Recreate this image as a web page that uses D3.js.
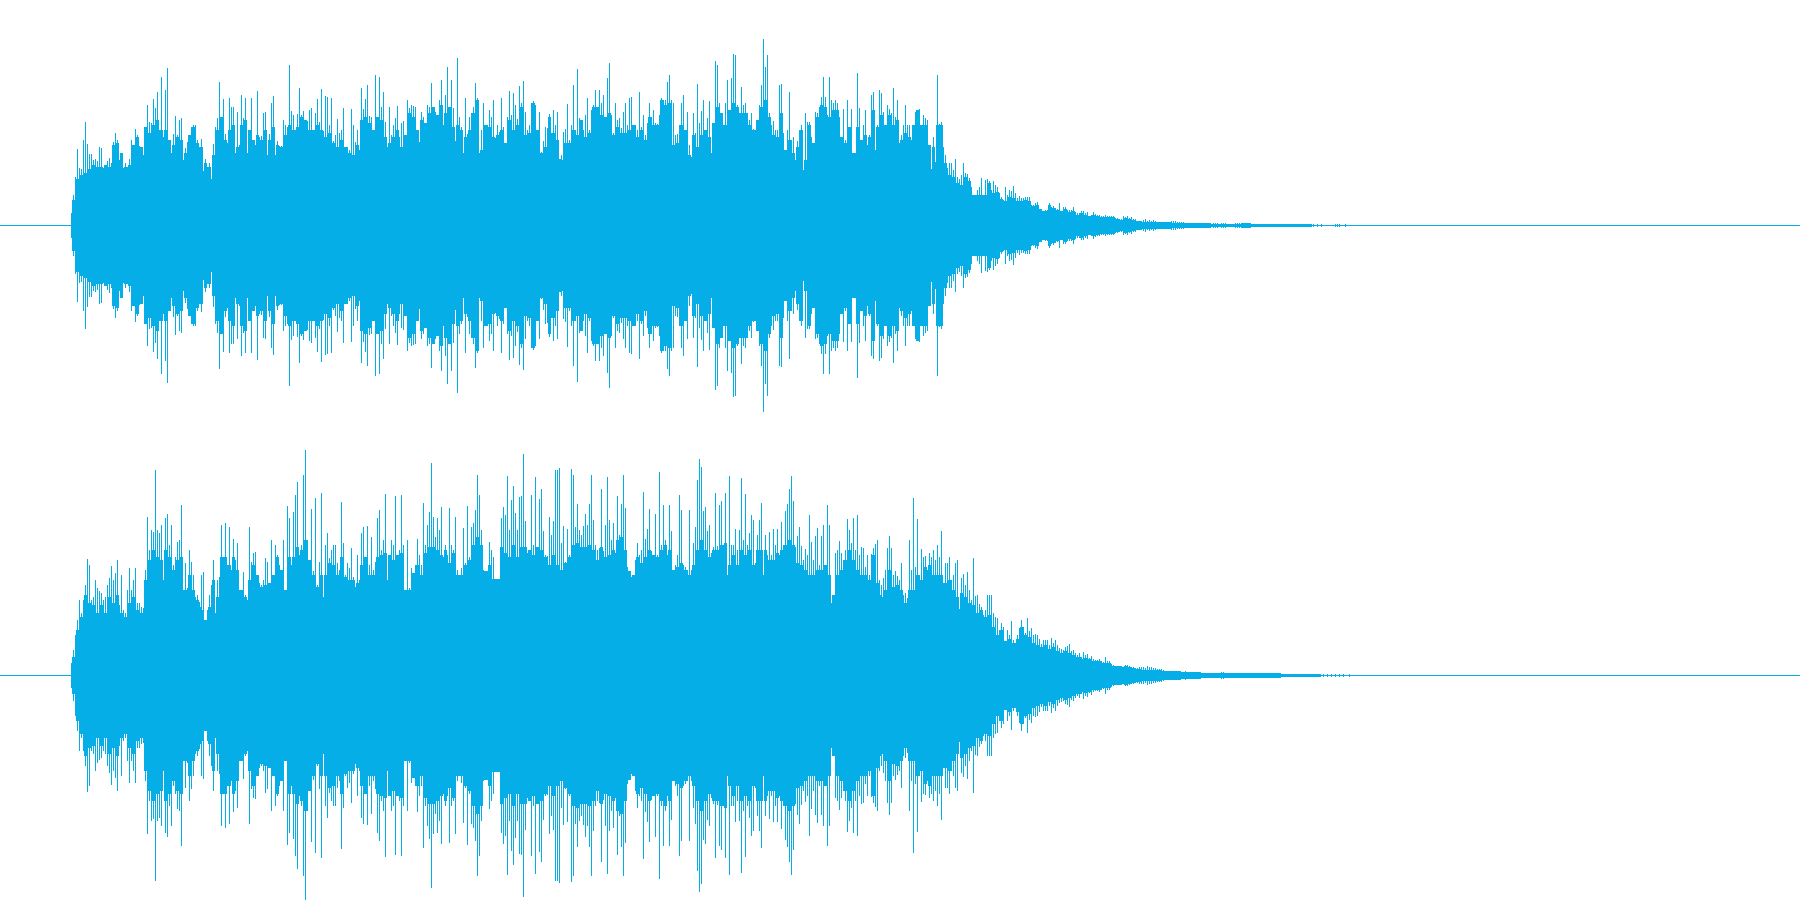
<!DOCTYPE html>
<html>
<head>
<meta charset="utf-8">
<script src="https://d3js.org/d3.v7.min.js"></script>
<style>
  body { margin: 0; background: #fff; }
  svg { display: block; }
</style>
</head>
<body>
<div id="wave"></div>
<script>
// peak level of each channel, one reading every 2 columns from column 71
var topPeaks = [5,30,48,76,57,56,85,103,81,71,71,65,66,64,78,77,57,57,64,67,62,83,92,85,65,56,57,62,58,66,85,62,96,90,79,77,70,98,120,103,102,126,117,133,95,148,88,135,157,82,72,91,109,90,105,107,65,77,83,57,98,100,100,85,78,86,46,66,58,62,46,81,98,107,143,97,126,91,82,127,118,118,67,113,80,130,107,127,72,88,127,72,80,134,88,89,112,113,70,91,122,129,70,84,79,79,105,100,98,160,114,110,95,111,137,110,114,104,104,115,117,83,112,126,103,136,94,129,128,100,127,84,90,106,92,95,117,73,78,75,116,100,83,95,75,137,116,126,140,109,108,82,150,100,148,118,133,103,74,118,90,100,107,119,88,102,104,70,125,117,120,119,118,79,83,113,108,88,120,118,142,117,113,110,125,145,100,130,158,110,145,117,84,167,108,98,72,127,91,108,112,118,142,127,72,95,122,100,100,115,108,125,87,100,93,
127,98,78,108,134,110,132,120,106,139,122,144,113,95,100,122,124,120,90,113,73,84,98,97,111,92,115,100,113,66,70,93,96,121,85,100,140,95,156,107,105,95,110,127,95,115,120,135,112,135,122,130,102,147,162,110,92,122,105,107,97,113,122,100,127,128,72,100,95,133,98,110,90,102,122,108,115,102,101,110,127,125,125,143,150,125,122,90,91,100,122,130,95,113,80,68,112,92,141,102,114,125,95,107,124,70,100,164,160,122,112,100,122,145,82,147,171,170,120,112,138,120,122,112,105,112,96,95,105,120,140,186,158,170,112,100,104,95,95,140,141,92,75,95,133,85,88,65,84,95,100,55,112,103,103,88,82,113,112,118,128,148,128,110,148,125,122,125,122,108,88,116,85,125,97,116,58,63,152,117,85,100,115,80,90,130,133,75,100,135,132,113,88,120,116,112,137,108,125,82,90,100,120,100,100,85,100,113,115,116,88,110,107,105,75,56,88,63,150,101,103,78,70,57,62,62,55,66,48,46,50,62,52,51,47,38,30,30,35,38,47,30,45,46,44,35,44,40,38,32,
28,25,38,30,35,34,39,32,27,29,27,27,28,28,28,20,20,22,23,16,16,12,15,15,22,18,19,17,16,22,10,18,18,15,15,15,18,13,12,12,14,14,12,13,8,10,13,11,10,10,9,9,10,9,9,9,9,7,7,6,6,9,8,9,7,8,6,6,4,4,4,5,6,4,5,4,5,4,3,3,3,3,3,
3,3,4,4,4,3,3,3,3,2,2,2,2,2,2,2,2,2,2,2,1,2,1,2,2,2,1,2,2,2,1,1,1,1,2,2,2,2,2,2,2,2,
1,1,1,1,1,1,1,1,1,1,1,1,1,1,1,1,1,1,1,1,1,1,1,1,1,1,1,1,1,1,1,1,0,1,0,1,0,0,0,0,0,0,1,1,1,0,0,1];

var bottomPeaks = [7,25,40,55,75,62,75,90,116,110,75,78,95,87,84,82,75,78,90,97,109,95,102,115,70,100,65,62,85,107,85,95,107,72,72,68,67,105,158,125,145,143,205,145,142,150,95,157,161,130,150,110,118,133,135,170,85,112,87,125,113,100,78,80,73,100,103,52,65,80,90,115,62,95,98,150,118,152,110,148,105,136,115,132,85,85,103,80,75,148,113,122,123,100,92,90,95,117,113,83,135,90,130,120,110,70,135,68,169,157,110,163,180,193,120,130,200,225,135,112,166,104,177,90,113,182,78,130,142,117,125,130,130,112,105,173,132,100,112,107,127,98,88,120,95,142,148,97,149,110,138,105,113,157,165,125,135,181,95,85,135,130,179,105,125,180,130,80,135,87,107,100,110,136,120,110,172,130,150,163,212,158,138,157,145,168,118,130,120,167,130,125,158,105,100,107,147,112,169,118,148,152,165,200,180,145,105,75,90,133,125,118,82,95,90,
157,168,160,199,145,175,189,162,145,178,179,221,154,122,120,180,130,198,125,176,186,144,120,119,158,140,154,205,205,207,132,149,113,146,120,206,200,148,171,145,140,149,161,150,171,200,155,130,125,127,186,124,150,198,155,135,152,122,179,140,171,200,167,108,92,98,95,115,132,120,125,183,136,146,166,124,120,161,120,203,130,170,135,120,170,144,105,110,120,180,165,110,108,105,165,105,132,148,195,216,208,164,168,144,150,122,128,182,129,170,174,130,182,81,199,130,130,146,125,145,197,135,181,130,142,160,155,112,140,155,172,100,140,120,143,120,146,130,146,120,153,130,164,171,186,199,174,128,139,148,129,115,126,120,160,133,115,139,147,110,139,150,100,170,150,70,70,122,125,134,122,115,125,156,145,132,157,125,160,120,128,127,108,120,100,121,127,131,135,95,90,97,105,127,139,127,100,104,99,95,112,80,82,77,135,105,177,108,156,100,126,118,119,105,122,118,125,115,130,118,144,92,112,112,118,95,100,112,115,66,97,101,90,103,85,75,117,79,80,71,68,60,65,80,80,80,62,58,57,45,
52,48,30,45,40,54,35,32,40,47,55,48,42,57,44,47,40,41,40,36,31,35,35,35,30,37,32,35,30,27,26,25,28,29,31,24,25,22,20,22,18,23,20,21,17,19,16,15,15,16,14,13,18,14,14,11,10,9,9,9,9,8,10,10,9,8,8,7,7,8,8,8,7,9,8,8,7,7,6,6,6,5,4,4,4,3,3,4,3,3,3,3,4,3,3,3,3,3,3,
2,2,2,2,2,2,2,2,2,2,2,3,3,2,2,2,2,2,2,2,2,2,2,2,2,2,2,2,2,2,2,2,2,2,
2,1,1,1,1,1,1,1,1,1,1,1,1,1,1,1,1,1,1,1,1,0,1,0,1,0,1,0,1,0,1,0,1,0,1,0,1,0,1,0,0,1];

// level the columns between the peaks reach, one reading every 4 columns from column 72
var topShoulders = [25,46,50,52,56,60,58,58,60,58,80,82,72,58,60,80,88,78,98,92,100,105,95,95,85,80,88,85,72,90,98,82,78,62,58,70,95,108,85,95,100,78,100,105,95,85,90,85,95,85,98,80,78,90,100,95,98,108,105,95,95,100,95,88,92,82,78,85,78,72,70,80,105,108,102,95,108,105,88,82,88,95,78,90,112,108,95,105,102,112,118,110,120,112,118,98,100,95,88,95,112,125,75,100,98,88,90,
95,82,105,95,100,118,90,92,122,95,72,78,108,92,85,65,82,82,95,90,105,88,92,118,118,110,108,112,90,98,92,92,95,100,88,95,85,108,100,100,125,120,122,80,82,100,95,70,90,78,90,95,88,102,118,112,100,115,122,118,112,112,100,95,105,118,125,108,90,88,112,75,85,72,78,95,65,100,82,108,120,118,108,115,115,88,82,98,60,98,85,90,88,115,98,110,100,110,100,105,85,92,88,100,115,100,100,80,78,100,100,62,50,48,42,40,48,44,28,30,30,30,42,32,33,
26,24,28,27,24,24,25,24,19,20,14,14,20,17,15,14,16,13,14,10,12,10,8,10,9,8,8,8,8,6,5,7,6,5];

var bottomShoulders = [18,45,58,80,72,70,62,70,62,78,72,80,62,58,72,78,65,62,95,115,125,118,115,125,118,105,115,118,85,100,85,75,65,55,68,95,78,118,118,110,118,105,85,78,95,110,100,88,90,92,100,118,105,85,118,118,128,125,135,115,100,85,100,100,112,110,100,118,98,95,95,92,110,118,100,100,118,120,122,120,115,120,122,85,85,102,110,100,122,128,128,125,120,125,112,122,100,100,110,115,130,138,130,75,110,90,78,
128,122,118,130,118,128,128,125,120,128,125,118,110,120,110,105,112,118,130,132,128,128,130,125,115,128,118,120,125,135,138,125,80,100,118,112,118,125,120,118,125,130,125,105,108,112,105,100,110,125,135,125,118,125,125,130,132,110,120,110,125,120,125,110,125,125,125,115,115,122,125,130,135,130,112,110,105,100,100,105,105,110,100,80,100,105,115,125,115,105,100,100,95,120,92,78,85,105,88,90,85,72,85,85,100,95,108,110,100,100,100,92,95,85,78,82,78,72,70,62,65,58,60,48,40,
45,28,36,32,36,48,40,38,32,30,28,30,26,28,24,22,24,22,20,18,16,17,14,14,13,12,12,11,9,8,8,9,8,7,6];

// solid core of each channel, one reading every 10 columns from column 71
var topCore = [12,42,50,52,52,52,50,52,55,58,62,64,56,54,46,58,72,70,64,70,70,66,64,70,70,66,70,66,60,68,76,78,66,66,70,74,76,76,74,72,72,74,70,72,68,72,70,58,66,60,70,74,72,76,70,70,68,72,74,66,68,68,66,66,72,76,74,74,76,74,70,64,56,54,56,66,72,74,72,68,72,68,68,66,68,60,54,42,38,33,30,26,22,18,16,18,16,14,12,11,9,9,7,6,5,4,4,3,3,3,2,2,2,2,1,1,1,2,1,1,1,1,1,1];
var bottomCore = [12,42,54,55,56,56,56,60,80,80,78,76,68,52,56,70,70,68,76,70,76,74,90,95,88,76,84,82,82,85,90,95,88,85,85,90,96,100,96,96,100,104,96,104,96,104,96,96,92,102,96,102,104,100,100,104,78,88,92,96,88,80,88,106,96,100,92,88,88,88,96,104,96,84,84,80,72,80,84,84,80,68,72,62,76,80,76,72,62,54,50,40,36,34,32,25,27,25,22,18,18,16,14,12,9,7,6,5,5,4,4,3,3,2,2,2,2,2,2,2,2,1,1,1,1];

var width = 1800, height = 900;
var channelHeight = height / 2;
var fullScale = 225;     // level that touches the edge of a channel
var waveColor = "#05aee6";

var x = d3.scaleLinear().domain([0, width]).range([0, width]);
var y = d3.scaleLinear().domain([fullScale, -fullScale]).range([0, channelHeight]);

var svg = d3.select("#wave").append("svg")
    .attr("width", width)
    .attr("height", height)
    .attr("shape-rendering", "crispEdges");

function drawBars(channel, levels, firstColumn, step, barWidth) {
    channel.append("g")
        .selectAll("rect")
        .data(levels)
        .enter()
        .append("rect")
        .attr("x", function(d, i) { return x(firstColumn + i * step); })
        .attr("y", function(d) { return y(d); })
        .attr("width", barWidth)
        .attr("height", function(d) { return d > 0 ? y(-d) - y(d) + 1 : 0; })
        .attr("fill", waveColor);
}

function drawChannel(index, peaks, shoulders, core) {
    var channel = svg.append("g")
        .attr("transform", "translate(0," + (index * channelHeight) + ")");

    // zero line runs the whole width
    channel.append("line")
        .attr("x1", x(0))
        .attr("x2", x(width))
        .attr("y1", y(0) + 0.5)
        .attr("y2", y(0) + 0.5)
        .attr("stroke", waveColor)
        .attr("stroke-width", 1);

    drawBars(channel, core, 71, 10, 10);
    drawBars(channel, shoulders, 72, 4, 3);
    drawBars(channel, peaks, 71, 2, 1);
}

drawChannel(0, topPeaks, topShoulders, topCore);
drawChannel(1, bottomPeaks, bottomShoulders, bottomCore);
</script>
</body>
</html>
